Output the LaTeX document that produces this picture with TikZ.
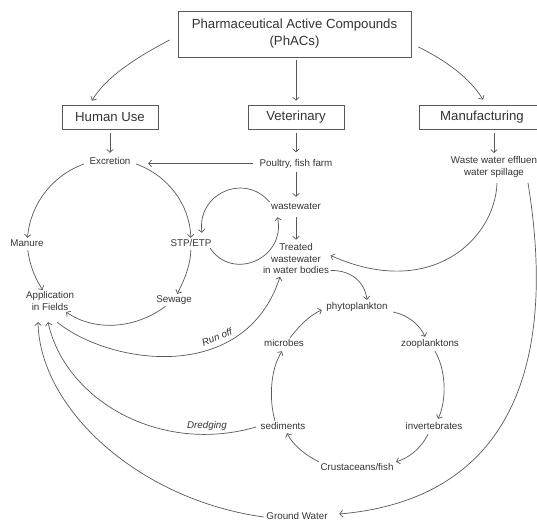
\documentclass[tikz,border=0pt]{standalone}
\usepackage{fontspec}
\setmainfont{Liberation Sans}
\usetikzlibrary{arrows.meta}
\definecolor{ln}{HTML}{585858}
\definecolor{tx}{HTML}{333333}
\begin{document}
\begin{tikzpicture}[x=1pt,y=-1pt,
  box/.style={draw=ln, line width=0.7pt, text=tx, inner sep=0pt,
    font=\fontsize{13.2}{17}\selectfont},
  lab/.style={text=tx, inner sep=1.5pt, text height=7pt, text depth=2pt,
    font=\fontsize{9.8}{11.5}\selectfont},
  lab2/.style={text=tx, inner sep=1.5pt, align=center,
    font=\fontsize{9.8}{11.5}\selectfont},
  edgelab/.style={text=tx, inner sep=1pt,
    font=\fontsize{9.8}{11.5}\selectfont\itshape},
  arr/.style={draw=ln, line width=0.7pt, -{Straight Barb[length=3pt,width=6.5pt]}}
]
\useasboundingbox (0,0) rectangle (537,519);
\clip (0,0) rectangle (537,519);

% boxes
\node[box, minimum width=233pt, minimum height=46pt, align=center] (top) at (294.5,34)
  {Pharmaceutical Active Compounds\\(PhACs)};
\node[box, minimum width=96pt, minimum height=24pt] (human) at (110,117) {Human Use};
\node[box, minimum width=96pt, minimum height=24pt] (vet) at (296,117) {Veterinary};
\node[box, minimum width=126pt, minimum height=24pt] (manu) at (482,117) {Manufacturing};

% labels
\node[lab] (exc) at (110,162) {Excretion};
\node[lab] (poultry) at (296,163.5) {Poultry, fish farm};
\node[lab2] (waste) at (494,167) {Waste water effluen\\water spillage};
\node[lab] (ww) at (296,207) {wastewater};
\node[lab2] (treated) at (296,258.5) {Treated\\wastewater\\in water bodies};
\node[lab] (manure) at (27,244) {Manure};
\node[lab] (stp) at (191,244) {STP/ETP};
\node[lab2] (app) at (50,301) {Application\\in Fields};
\node[lab] (sewage) at (174,300) {Sewage};
\node[lab] (phyto) at (357,307) {phytoplankton};
\node[lab] (zoo) at (430,344) {zooplanktons};
\node[lab] (mic) at (284,344) {microbes};
\node[lab] (inv) at (434,427) {invertebrates};
\node[lab] (sed) at (283,427) {sediments};
\node[lab] (crust) at (357,468) {Crustaceans/fish};
\node[lab] (gw) at (297,517) {Ground Water};
\node[edgelab] (dredge) at (207,426) {Dredging};
\node[edgelab, rotate=22] (runoff) at (217,337) {Run off};

% top level
\draw[arr] ([shift={(-8pt,-6pt)}]top.west) .. controls (135,58) and (105,78) .. ([shift={(-18pt,4pt)}]human.north);
\draw[arr, shorten <=3pt, shorten >=4pt] (top.south -| vet.north) -- (vet.north);
\draw[arr] ([shift={(7pt,-13pt)}]top.east) .. controls (445,60) and (470,78) .. ([shift={(1pt,5pt)}]manu.north);

\draw[arr, shorten <=4pt, shorten >=3pt] (human) -- (exc);
\draw[arr, shorten <=4pt, shorten >=5pt] (vet) -- (poultry);
\draw[arr, shorten <=4pt, shorten >=2pt] (manu.south -| waste.north) -- (waste.north);
\draw[arr, shorten <=5pt, shorten >=16pt] (poultry.west) -- (poultry.west -| exc.east);

% human cycle
\draw[arr] ([shift={(-4pt,-2pt)}]exc.west) .. controls (51.6,175.8) and (30.2,204.9) .. (manure);
\draw[arr] ([shift={(4pt,-2pt)}]exc.east) .. controls (168.4,175.8) and (189.8,204.9) .. (stp);
\draw[arr] (manure) .. controls (29.5,263.3) and (33.9,276.5) .. (app);
\draw[arr] (stp) .. controls (190.5,263.3) and (186.1,276.5) .. (sewage);
\draw[arr] (sewage) .. controls (134.7,329.3) and (94.4,331.5) .. (app);

% loop STP <-> wastewater
\draw[arr] ([yshift=5pt]ww.west) .. controls (244.4,172.2) and (196.5,193.9) .. ([shift={(11pt,5pt)}]stp.north);
\draw[arr] ([shift={(-3pt,2pt)}]stp.south east) .. controls (232.7,281.7) and (285.8,258.6) .. ([shift={(8pt,-4pt)}]ww.south west);

\draw[arr, shorten <=2pt, shorten >=4pt] (poultry) -- (ww);
\draw[arr, shorten <=4pt, shorten >=2pt] (ww) -- (treated);

% manufacturing
\draw[arr] ([shift={(3pt,-4pt)}]waste.south) .. controls (495,240) and (430,300) .. ([yshift=3pt]treated.east);
\draw[arr] ([shift={(34pt,-4pt)}]waste.south) .. controls (560,380) and (500,500) .. ([shift={(10pt,3pt)}]gw.east);

% back to fields
\draw[arr] ([xshift=-1pt]gw.west) .. controls (140,500) and (40,410) .. ([shift={(-12pt,-10pt)}]app.south);
\draw[arr] ([xshift=-3pt]sed.west) .. controls (160,455) and (65,400) .. ([shift={(-2pt,-10pt)}]app.south);
\draw[arr] ([shift={(7pt,-10pt)}]app.south) .. controls (110,365) and (245,385) .. ([shift={(-16pt,-1.5pt)}]treated.south);

% ecosystem cycle
\draw[arr] ([yshift=-12pt]treated.east) .. controls (352,270) and (365,283) .. ([shift={(10pt,1pt)}]phyto.north);
\draw[arr] ([shift={(4pt,-5pt)}]phyto.east) .. controls (408,315) and (420,325) .. ([shift={(-5pt,1pt)}]zoo.north);
\draw[arr] ([shift={(5pt,-1pt)}]zoo.south) .. controls (446,370) and (447,400) .. ([shift={(4pt,2pt)}]inv.north);
\draw[arr] ([shift={(-6pt,-1pt)}]inv.south) .. controls (420,450) and (408,458) .. ([xshift=1pt]crust.north east);
\draw[arr] (crust.north west) .. controls (305,455) and (293,445) .. ([xshift=4pt]sed.south);
\draw[arr] ([xshift=-8pt]sed.north) .. controls (269,400) and (270,370) .. ([shift={(-2pt,-1pt)}]mic.south);
\draw[arr] ([xshift=6pt]mic.north) .. controls (300,325) and (310,315) .. ([shift={(-3pt,-3pt)}]phyto.west);
\end{tikzpicture}
\end{document}
